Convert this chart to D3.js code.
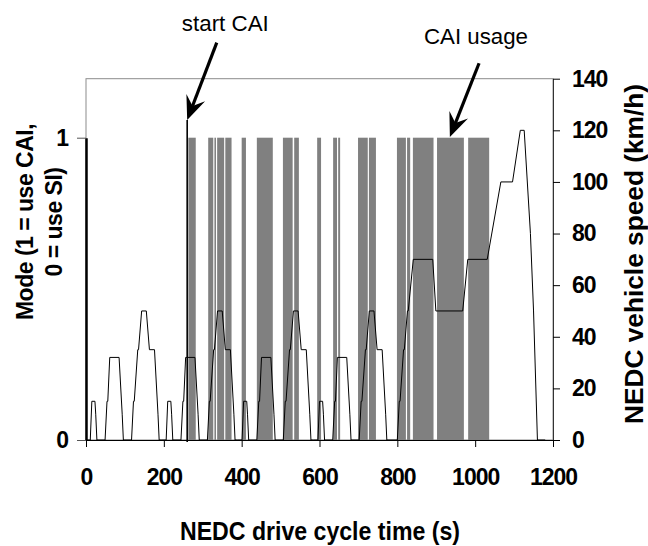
<!DOCTYPE html>
<html>
<head>
<meta charset="utf-8">
<script src="https://cdn.jsdelivr.net/npm/d3@7"></script>
<style>
  body { margin: 0; background: #fff; }
  svg text { font-family: "Liberation Sans", Arial, sans-serif; }
</style>
</head>
<body>
<div id="chart"></div>
<script>
// NEDC speed trace (breakpoints, s / km/h)
var cycleTime = [0, 11, 15, 23, 25, 28, 49, 54, 56, 61, 85, 93, 96, 117, 122, 124, 133, 135, 143, 155, 163, 176, 185, 188,
  195, 206, 210, 218, 220, 223, 244, 249, 251, 256, 280, 288, 291, 312, 317, 319, 328, 330, 338, 350, 358, 371, 380, 383,
  390, 401, 405, 413, 415, 418, 439, 444, 446, 451, 475, 483, 486, 507, 512, 514, 523, 525, 533, 545, 553, 566, 575, 578,
  585, 596, 600, 608, 610, 613, 634, 639, 641, 646, 670, 678, 681, 702, 707, 709, 718, 720, 728, 740, 748, 761, 770, 773,
  800, 805, 807, 816, 818, 826, 828, 841, 891, 899, 968, 981, 1031, 1066, 1096, 1116, 1126, 1142, 1150, 1160, 1180];
var cycleSpeed = [0, 0, 15, 15, 10, 0, 0, 15, 15, 32, 32, 10, 0, 0, 15, 15, 35, 35, 50, 50, 35, 35, 10, 0,
  0, 0, 15, 15, 10, 0, 0, 15, 15, 32, 32, 10, 0, 0, 15, 15, 35, 35, 50, 50, 35, 35, 10, 0,
  0, 0, 15, 15, 10, 0, 0, 15, 15, 32, 32, 10, 0, 0, 15, 15, 35, 35, 50, 50, 35, 35, 10, 0,
  0, 0, 15, 15, 10, 0, 0, 15, 15, 32, 32, 10, 0, 0, 15, 15, 35, 35, 50, 50, 35, 35, 10, 0,
  0, 15, 15, 35, 35, 50, 50, 70, 70, 50, 50, 70, 70, 100, 100, 120, 120, 80, 50, 0, 0];

// CAI mode (mode = 1) intervals, s
var caiStart = [263, 314, 330, 337, 358, 400, 439, 506, 535, 594, 635, 648, 699, 727, 799, 825, 840, 902, 982];
var caiEnd   = [282, 327, 334, 355, 374, 411, 480, 531, 547, 604, 645, 653, 724, 745, 822, 833, 893, 971, 1036];
var startCAI = 260;

var timeTicks = [0, 200, 400, 600, 800, 1000, 1200];
var speedTicks = [0, 20, 40, 60, 80, 100, 120, 140];
var modeTicks = [0, 1];

var W = 648, H = 546;
var plotL = 86, plotR = 553, plotT = 78.7, plotB = 440;

var svg = d3.select("#chart").append("svg")
    .attr("width", W)
    .attr("height", H);

var x = d3.scaleLinear().domain([0, 1200]).range([plotL, plotR]);
var ySpeed = d3.scaleLinear().domain([0, 140]).range([plotB, plotT]);
var yMode = d3.scaleLinear().domain([0, 1]).range([plotB, 137.7]);

// plot border
svg.append("rect")
    .attr("x", plotL).attr("y", plotT)
    .attr("width", plotR - plotL).attr("height", plotB - plotT)
    .attr("fill", "none").attr("stroke", "#8c8c8c").attr("stroke-width", 1);

// CAI bars
svg.selectAll(".cai")
    .data(caiStart.map(function (s, i) { return { s: s, e: caiEnd[i] }; }))
    .enter().append("rect")
    .attr("class", "cai")
    .attr("x", function (d) { return x(d.s); })
    .attr("width", function (d) { return x(d.e) - x(d.s); })
    .attr("y", yMode(1))
    .attr("height", yMode(0) - yMode(1))
    .attr("fill", "#808080");

// speed trace
var line = d3.line()
    .x(function (d) { return x(d[0]); })
    .y(function (d) { return ySpeed(d[1]); });
svg.append("path")
    .datum(cycleTime.map(function (t, i) { return [t, cycleSpeed[i]]; }))
    .attr("d", line)
    .attr("fill", "none")
    .attr("stroke", "#000")
    .attr("stroke-width", 1);

// start CAI marker line
svg.append("line")
    .attr("x1", x(startCAI)).attr("x2", x(startCAI))
    .attr("y1", ySpeed(124)).attr("y2", plotB + 2)
    .attr("stroke", "#000").attr("stroke-width", 1.6);

// axes
var tickFont = function (g) {
  g.selectAll("text")
    .attr("font-size", "23px")
    .attr("font-weight", "bold")
    .attr("fill", "#000")
    .style("letter-spacing", "-1px");
  g.selectAll("line").attr("stroke", "#000");
};

var xAxis = svg.append("g")
    .attr("transform", "translate(0," + plotB + ")")
    .call(d3.axisBottom(x).tickValues(timeTicks).tickFormat(d3.format("d"))
      .tickSize(7).tickSizeOuter(0).tickPadding(22))
    .call(tickFont);
xAxis.select(".domain").attr("stroke", "#000");

var rAxis = svg.append("g")
    .attr("transform", "translate(" + plotR + ",0)")
    .call(d3.axisRight(ySpeed).tickValues(speedTicks).tickFormat(d3.format("d"))
      .tickSize(7).tickSizeOuter(0).tickPadding(12))
    .call(tickFont);
rAxis.select(".domain").attr("stroke", "#333");

var lAxis = svg.append("g")
    .attr("transform", "translate(" + plotL + ",0)")
    .call(d3.axisLeft(yMode).tickValues(modeTicks).tickFormat(d3.format("d"))
      .tickSize(9).tickSizeOuter(0).tickPadding(9))
    .call(tickFont);
lAxis.select(".domain").attr("stroke", "#000").attr("stroke-width", 2.5);
lAxis.selectAll(".tick line").attr("stroke", "#555");

// axis titles
svg.append("text")
    .attr("x", 320).attr("y", 540)
    .attr("text-anchor", "middle")
    .attr("font-size", "25px").attr("font-weight", "bold")
    .attr("textLength", 280).attr("lengthAdjust", "spacingAndGlyphs")
    .text("NEDC drive cycle time (s)");

svg.append("text")
    .attr("transform", "translate(643,254) rotate(-90)")
    .attr("text-anchor", "middle")
    .attr("font-size", "25px").attr("font-weight", "bold")
    .attr("textLength", 340).attr("lengthAdjust", "spacingAndGlyphs")
    .text("NEDC vehicle speed (km/h)");

var lt = svg.append("text")
    .attr("transform", "translate(33,222) rotate(-90)")
    .attr("text-anchor", "middle")
    .attr("font-size", "23px").attr("font-weight", "bold")
    .style("letter-spacing", "-0.5px");
lt.append("tspan").attr("x", 0).attr("y", 0).text("Mode (1 = use CAI,");
lt.append("tspan").attr("x", 0).attr("y", 29).text("0 = use SI)");

// annotations
function arrow(t0, v0, t1, v1) {
  var x0 = x(t0), y0 = ySpeed(v0), x1 = x(t1), y1 = ySpeed(v1);
  var a = Math.atan2(y1 - y0, x1 - x0);
  var L = 24, hw = 10, N = 15;
  var bx = x1 - L * Math.cos(a), by = y1 - L * Math.sin(a);
  var nx = x1 - N * Math.cos(a), ny = y1 - N * Math.sin(a);
  svg.append("line")
      .attr("x1", x0).attr("y1", y0).attr("x2", nx).attr("y2", ny)
      .attr("stroke", "#000").attr("stroke-width", 3.2);
  var pts = [[x1, y1],
    [bx + hw * Math.sin(a), by - hw * Math.cos(a)],
    [nx, ny],
    [bx - hw * Math.sin(a), by + hw * Math.cos(a)]];
  svg.append("path")
      .attr("d", "M" + pts.join("L") + "Z")
      .attr("fill", "#000");
}

svg.append("text")
    .attr("x", x(358)).attr("y", 31)
    .attr("text-anchor", "middle")
    .attr("font-size", "22px")
    .attr("textLength", 87).attr("lengthAdjust", "spacingAndGlyphs")
    .text("start CAI");
arrow(336, 154, 260, 124);

svg.append("text")
    .attr("x", x(1002)).attr("y", 44)
    .attr("text-anchor", "middle")
    .attr("font-size", "22px")
    .attr("textLength", 104).attr("lengthAdjust", "spacingAndGlyphs")
    .text("CAI usage");
arrow(1010, 146, 935, 117.4);
</script>
</body>
</html>
